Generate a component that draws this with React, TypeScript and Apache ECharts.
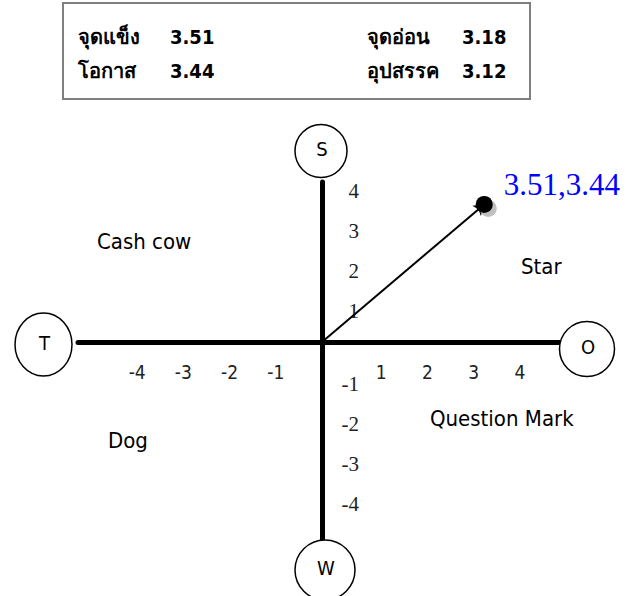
import React, { useEffect, useRef } from "react";
import * as echarts from "echarts";

// ---- data ----
const xTickValues = [-4, -3, -2, -1, 1, 2, 3, 4];
const yTickValues = [4, 3, 2, 1, -1, -2, -3, -4];
const swotNames = ["จุดแข็ง", "โอกาส", "จุดอ่อน", "อุปสรรค"];
const swotScores = [3.51, 3.44, 3.18, 3.12];
const positionPoint = [3.51, 3.44];
const quadrantNames = ["Cash cow", "Star", "Dog", "Question Mark"];
const axisEndNames = ["S", "O", "W", "T"];

const SANS = '"DejaVu Sans Condensed", Tahoma, "Noto Sans", sans-serif';
const SERIF = '"Liberation Serif", "Times New Roman", serif';

const X_MIN = -5.28;
const X_MAX = 5.15;
const Y_MIN = -4.95;
const Y_MAX = 4;
const GRID = { left: 78, right: 67, top: 182, bottom: 56 };

export default function App() {
  const ref = useRef<HTMLDivElement>(null);

  useEffect(() => {
    if (!ref.current) return;
    const chart = echarts.init(ref.current, undefined, { renderer: "svg" });

    const W = 627;
    const H = 596;
    const plotW = W - GRID.left - GRID.right;
    const plotH = H - GRID.top - GRID.bottom;
    // shift the axes so they cross at zero (labels follow the lines)
    const xAxisOffset = -((0 - Y_MIN) / (Y_MAX - Y_MIN)) * plotH;
    const yAxisOffset = -((0 - X_MIN) / (X_MAX - X_MIN)) * plotW;

    // SWOT summary box
    const boxCols = [
      { nameX: 78, valX: 170 },
      { nameX: 367, valX: 462 },
    ];
    const boxRows = [37, 71];
    const boxTexts: any[] = [];
    swotNames.forEach((name, i) => {
      const col = boxCols[Math.floor(i / 2)];
      const y = boxRows[i % 2];
      boxTexts.push({
        type: "text",
        x: col.nameX,
        y,
        z: 20,
        style: {
          text: name,
          fontFamily: SANS,
          fontWeight: "bold",
          fontSize: 20,
          fill: "#000",
          align: "left",
          verticalAlign: "middle",
        },
      });
      boxTexts.push({
        type: "text",
        x: col.valX,
        y,
        z: 20,
        style: {
          text: swotScores[i].toFixed(2),
          fontFamily: SANS,
          fontWeight: "bold",
          fontSize: 20,
          fill: "#000",
          align: "left",
          verticalAlign: "middle",
        },
      });
    });

    // circles at the ends of the axes
    const circles = [
      { name: axisEndNames[0], cx: 321, cy: 151, rx: 26, ry: 26.5 },
      { name: axisEndNames[1], cx: 587, cy: 349, rx: 27.5, ry: 27.5 },
      { name: axisEndNames[2], cx: 325, cy: 570, rx: 30, ry: 30 },
      { name: axisEndNames[3], cx: 43.5, cy: 344.5, rx: 28.5, ry: 31.5 },
    ];
    const circleEls: any[] = [];
    circles.forEach((c) => {
      circleEls.push({
        type: "ellipse",
        z: 20,
        shape: { cx: c.cx, cy: c.cy, rx: c.rx, ry: c.ry },
        style: { fill: "#fff", stroke: "#000", lineWidth: 1.5 },
      });
      circleEls.push({
        type: "text",
        z: 21,
        x: c.cx + 1,
        y: c.cy - 2,
        style: {
          text: c.name,
          fontFamily: SANS,
          fontSize: 20,
          fill: "#000",
          align: "center",
          verticalAlign: "middle",
        },
      });
    });

    const quadPos = [
      { x: 97, y: 241 },
      { x: 521, y: 266 },
      { x: 108, y: 440 },
      { x: 430, y: 418 },
    ];
    const quadEls = quadrantNames.map((q, i) => ({
      type: "text",
      z: 20,
      x: quadPos[i].x,
      y: quadPos[i].y,
      style: {
        text: q,
        fontFamily: SANS,
        fontSize: 22,
        fill: "#000",
        align: "left",
        verticalAlign: "middle",
      },
    }));

    const option: any = {
      animation: false,
      backgroundColor: "#fff",
      grid: { ...GRID, containLabel: false },
      xAxis: {
        type: "value",
        min: X_MIN,
        max: X_MAX,
        position: "bottom",
        offset: xAxisOffset,
        axisLine: { onZero: false, lineStyle: { color: "#000", width: 5 } },
        axisTick: { show: false },
        splitLine: { show: false },
        axisLabel: {
          customValues: xTickValues,
          margin: 20,
          color: "#222",
          fontFamily: SANS,
          fontSize: 19,
          formatter: (v: number) => (v > 0 ? `{p|${v}}` : `{n|${v}}`),
          rich: {
            p: { padding: [0, 0, 0, 26], fontFamily: SANS, fontSize: 19, color: "#222" },
            n: { fontFamily: SANS, fontSize: 19, color: "#222" },
          },
        },
      },
      yAxis: {
        type: "value",
        min: Y_MIN,
        max: Y_MAX,
        position: "left",
        offset: yAxisOffset,
        axisLine: { onZero: false, lineStyle: { color: "#000", width: 5 } },
        axisTick: { show: false },
        splitLine: { show: false },
        axisLabel: {
          customValues: yTickValues,
          inside: true,
          align: "right",
          margin: 37,
          color: "#222",
          fontFamily: SERIF,
          fontSize: 21,
          formatter: (v: number) => (v > 0 ? `{p|${v}}` : `{n|${v}}`),
          rich: {
            p: { padding: [18, 0, 0, 0], fontFamily: SERIF, fontSize: 21, color: "#222" },
            n: { padding: [4, 0, 0, 0], fontFamily: SERIF, fontSize: 21, color: "#222" },
          },
        },
      },
      graphic: [
        {
          type: "rect",
          z: 20,
          shape: { x: 63, y: 3, width: 467, height: 96 },
          style: { fill: "#fff", stroke: "#7f7f7f", lineWidth: 2 },
        },
        ...boxTexts,
        ...circleEls,
        ...quadEls,
      ],
      series: [
        {
          type: "lines",
          coordinateSystem: "cartesian2d",
          z: 3,
          symbol: ["none", "arrow"],
          symbolSize: 10,
          lineStyle: { color: "#000", width: 2, opacity: 1, curveness: 0 },
          data: [{ coords: [[0, 0], positionPoint] }],
        },
        {
          type: "scatter",
          z: 4,
          silent: true,
          symbolSize: 17,
          symbolOffset: [4, 4],
          itemStyle: { color: "#c0c0c0", opacity: 1 },
          data: [positionPoint],
        },
        {
          type: "scatter",
          z: 5,
          symbolSize: 17,
          itemStyle: { color: "#000", opacity: 1 },
          label: {
            show: true,
            position: "right",
            offset: [6, -20],
            color: "#0000ff",
            fontFamily: SERIF,
            fontSize: 31,
            formatter: (p: any) => `${p.value[0].toFixed(2)},${p.value[1].toFixed(2)}`,
          },
          data: [positionPoint],
        },
      ],
    };

    chart.setOption(option);
    return () => chart.dispose();
  }, []);

  return (
    <div
      ref={ref}
      style={{ position: "fixed", left: 0, top: 0, width: 627, height: 596, background: "#fff" }}
    />
  );
}
